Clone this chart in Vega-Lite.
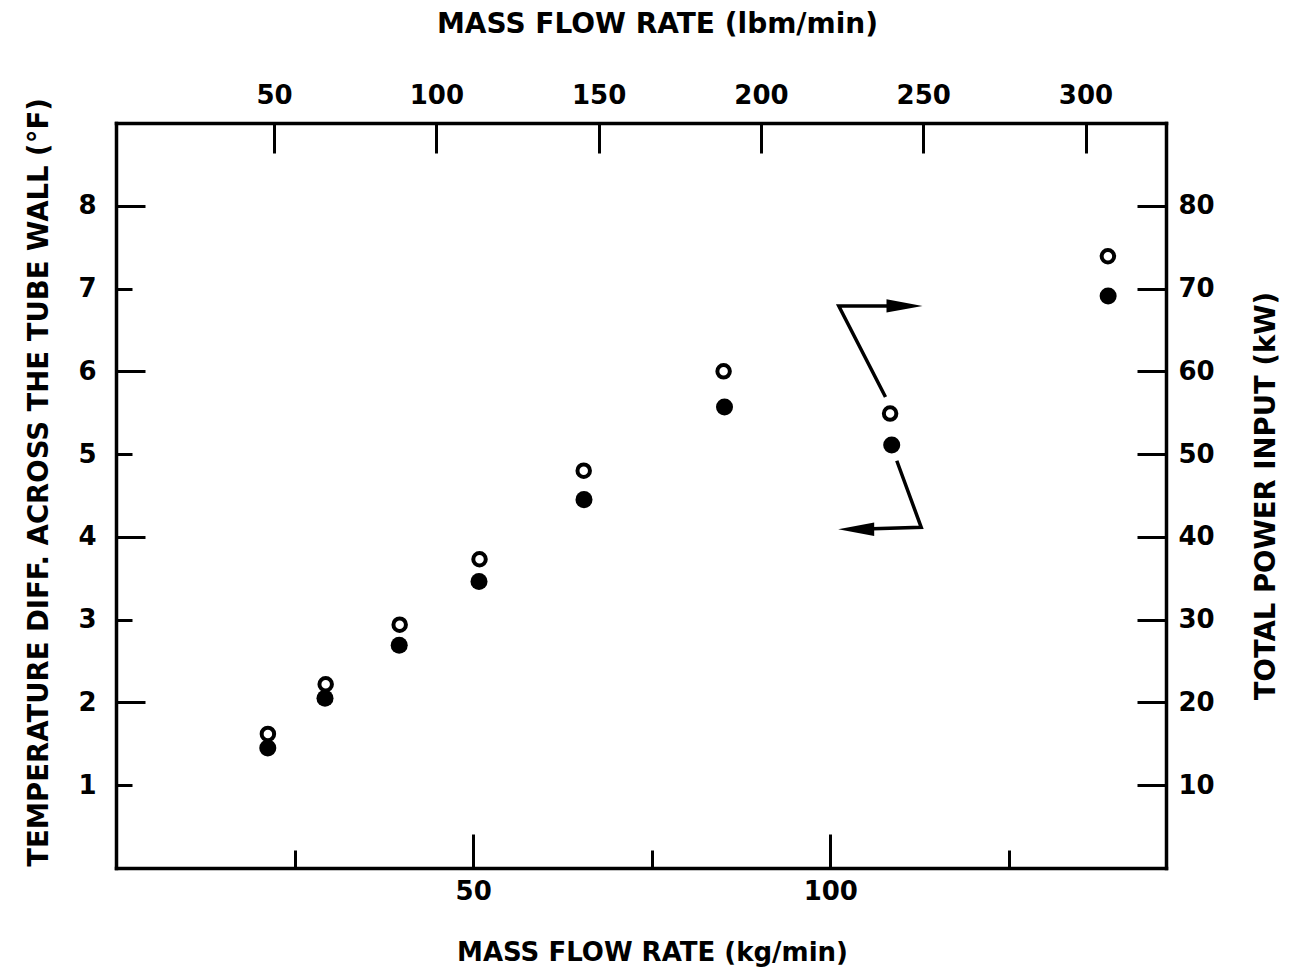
{
  "$schema": "https://vega.github.io/schema/vega-lite/v6.json",
  "width": 1050,
  "height": 745,
  "autosize": "none",
  "padding": {"left": 116, "top": 123, "right": 129, "bottom": 102},
  "background": "white",
  "config": {
    "view": {"stroke": null},
    "axis": {
      "domainColor": "black", "domainWidth": 3.5, "domainCap": "square",
      "tickColor": "black", "tickWidth": 3, "grid": false,
      "labelFont": "DejaVu Sans", "labelFontWeight": "bold", "labelFontSize": 26, "labelColor": "black",
      "titleFont": "DejaVu Sans", "titleFontWeight": "bold", "titleFontSize": 26, "titleColor": "black",
      "labelOverlap": false, "labelFlush": false
    }
  },
  "datasets": {
    "pts": [
      {"kg": 21.25, "temp": 1.45, "lbm": 48.1, "power": 16.2},
      {"kg": 29.26, "temp": 2.05, "lbm": 65.9, "power": 22.2},
      {"kg": 39.65, "temp": 2.69, "lbm": 88.7, "power": 29.4},
      {"kg": 50.82, "temp": 3.46, "lbm": 113.3, "power": 37.3},
      {"kg": 65.52, "temp": 4.45, "lbm": 145.4, "power": 48.0},
      {"kg": 85.19, "temp": 5.57, "lbm": 188.5, "power": 60.0},
      {"kg": 108.6, "temp": 5.11, "lbm": 239.8, "power": 54.9},
      {"kg": 138.9, "temp": 6.91, "lbm": 306.9, "power": 73.9}
    ],
    "arrowLines": [
      {"seg": "a", "i": 1, "kg": 107.73, "temp": 5.69},
      {"seg": "a", "i": 2, "kg": 101.19, "temp": 6.79},
      {"seg": "a", "i": 3, "kg": 110.39, "temp": 6.79},
      {"seg": "b", "i": 1, "kg": 109.31, "temp": 4.92},
      {"seg": "b", "i": 2, "kg": 112.73, "temp": 4.116},
      {"seg": "b", "i": 3, "kg": 103.63, "temp": 4.092}
    ],
    "arrowHeads": [
      {"dir": "right", "kg": 110.39, "temp": 6.79},
      {"dir": "left", "kg": 103.63, "temp": 4.092}
    ]
  },
  "resolve": {"scale": {"x": "independent", "y": "independent"}},
  "layer": [
    {
      "encoding": {
        "x": {
          "field": "kg", "type": "quantitative",
          "scale": {"domain": [0, 147], "nice": false, "zero": false},
          "axis": {
            "orient": "bottom", "title": "MASS FLOW RATE (kg/min)",
            "values": [25, 50, 75, 100, 125],
            "labelExpr": "datum.value % 50 === 0 ? datum.label : ''",
            "tickSize": {"condition": {"test": "datum.value % 50 === 0", "value": -34}, "value": -18},
            "labelPadding": 44,
            "titlePadding": 19,
            "titleX": 536
          }
        },
        "y": {
          "field": "temp", "type": "quantitative",
          "scale": {"domain": [0, 9], "nice": false, "zero": false},
          "axis": {
            "orient": "left", "title": "TEMPERATURE DIFF. ACROSS THE TUBE WALL (°F)",
            "titleFontSize": 27.5,
            "values": [1, 2, 3, 4, 5, 6, 7, 8],
            "tickSize": {"condition": {"test": "datum.value % 2 === 0", "value": -29}, "value": -16},
            "labelPadding": {"condition": {"test": "datum.value % 2 === 0", "value": 49}, "value": 36},
            "titlePadding": 24,
            "titleY": 359
          }
        }
      },
      "layer": [
        {
          "data": {"name": "pts"},
          "mark": {"type": "point", "filled": true, "size": 290, "color": "black", "opacity": 1}
        },
        {
          "data": {"name": "arrowLines"},
          "mark": {"type": "line", "color": "black", "strokeWidth": 3.5},
          "encoding": {
            "detail": {"field": "seg", "type": "nominal"},
            "order": {"field": "i", "type": "quantitative"}
          }
        },
        {
          "data": {"name": "arrowHeads"},
          "transform": [{"filter": "datum.dir === 'right'"}],
          "mark": {"type": "point", "shape": "M1,0L-1,-0.37L-1,0.37Z", "filled": true, "size": 1296, "color": "black", "opacity": 1, "strokeWidth": 0}
        },
        {
          "data": {"name": "arrowHeads"},
          "transform": [{"filter": "datum.dir === 'left'"}],
          "mark": {"type": "point", "shape": "M-1,0L1,-0.37L1,0.37Z", "filled": true, "size": 1296, "color": "black", "opacity": 1, "strokeWidth": 0}
        }
      ]
    },
    {
      "data": {"name": "pts"},
      "mark": {"type": "point", "filled": false, "size": 156, "stroke": "black", "strokeWidth": 4, "opacity": 1},
      "encoding": {
        "x": {
          "field": "lbm", "type": "quantitative",
          "scale": {"domain": [1.3, 324.8], "nice": false, "zero": false},
          "axis": {
            "orient": "top", "title": "MASS FLOW RATE (lbm/min)",
            "titleFontSize": 28,
            "values": [50, 100, 150, 200, 250, 300],
            "tickSize": -30,
            "labelPadding": 45,
            "titlePadding": 44,
            "titleX": 541
          }
        },
        "y": {
          "field": "power", "type": "quantitative",
          "scale": {"domain": [0, 90], "nice": false, "zero": false},
          "axis": {
            "orient": "right", "title": "TOTAL POWER INPUT (kW)",
            "titleAngle": 270,
            "titleFontSize": 27.5,
            "values": [10, 20, 30, 40, 50, 60, 70, 80],
            "tickSize": -29,
            "labelPadding": 41,
            "titlePadding": 66
          }
        }
      }
    }
  ]
}
